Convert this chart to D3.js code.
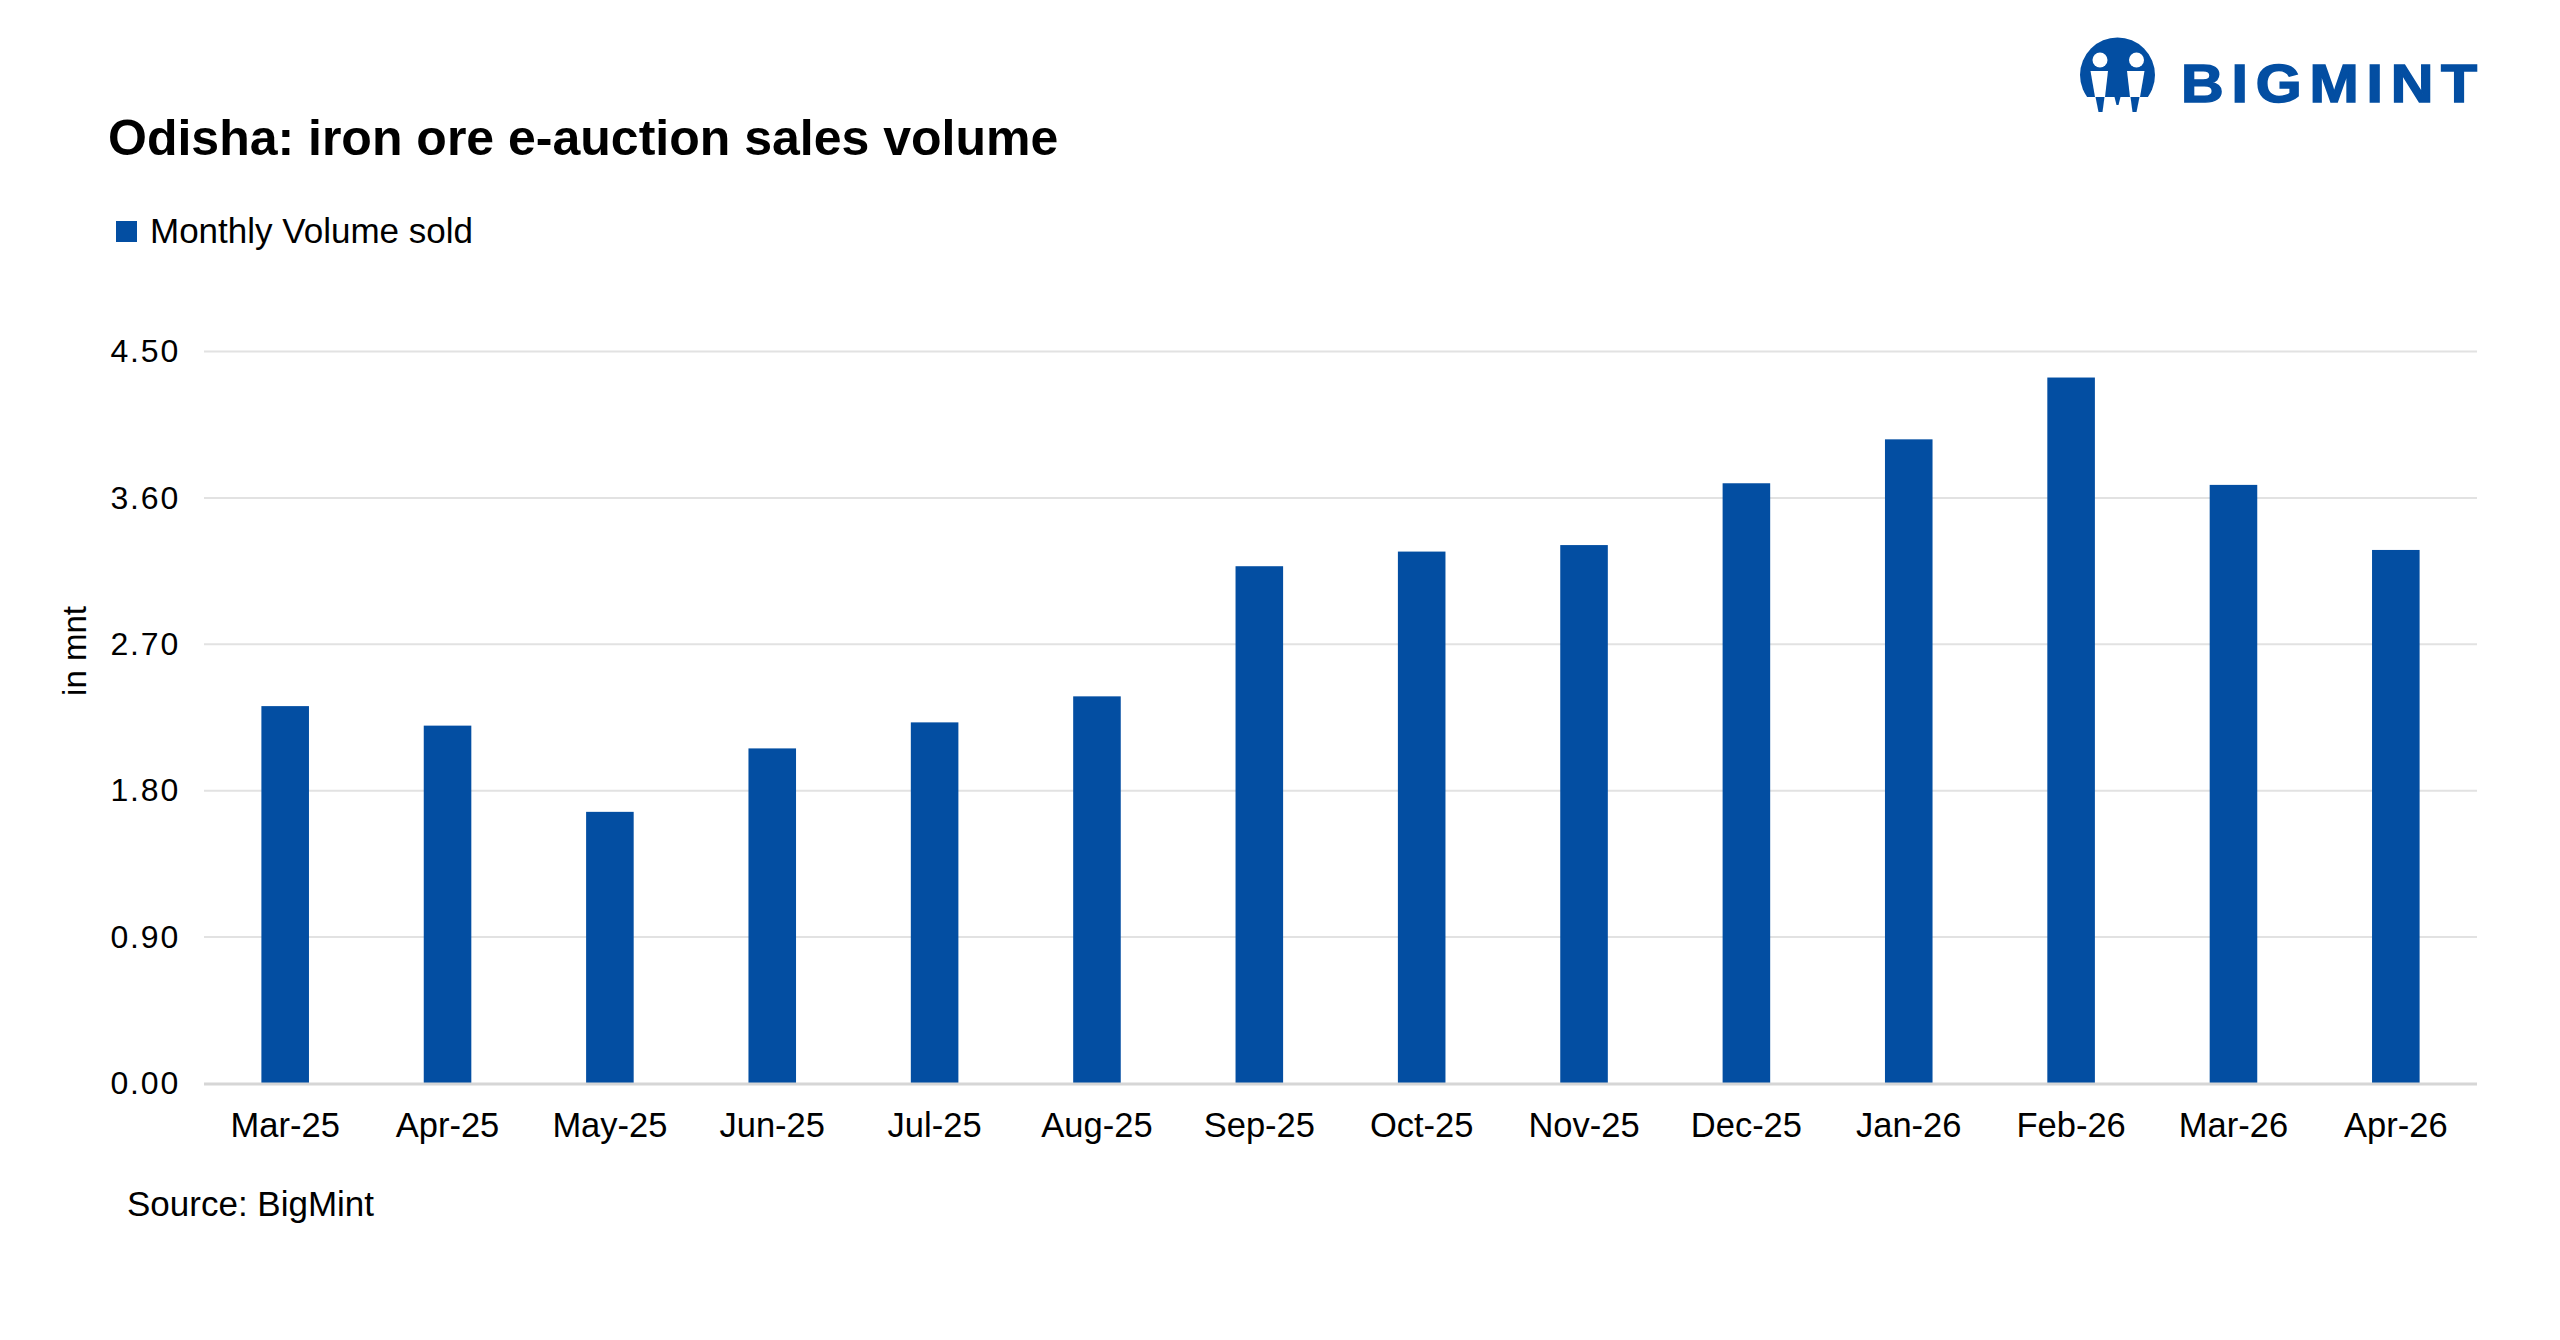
<!DOCTYPE html>
<html>
<head>
<meta charset="utf-8">
<script src="https://cdn.jsdelivr.net/npm/d3@7"></script>
<style>
  html, body { margin: 0; padding: 0; background: #fff; }
  svg { display: block; }
  text { font-family: "Liberation Sans", Arial, sans-serif; fill: #000; }
</style>
</head>
<body>
<svg id="chart" width="2560" height="1340"></svg>
<script>
const categories = ["Mar-25","Apr-25","May-25","Jun-25","Jul-25","Aug-25","Sep-25","Oct-25","Nov-25","Dec-25","Jan-26","Feb-26","Mar-26","Apr-26"];
const volumes = [2.32, 2.20, 1.67, 2.06, 2.22, 2.38, 3.18, 3.27, 3.31, 3.69, 3.96, 4.34, 3.68, 3.28];
const yTicks = [0, 0.9, 1.8, 2.7, 3.6, 4.5];
const seriesName = "Monthly Volume sold";
const titleText = "Odisha: iron ore e-auction sales volume";
const yTitle = "in mnt";
const sourceText = "Source: BigMint";
const brandText = "BIGMINT";

(function () {
const BLUE = "#034EA2";
const svg = d3.select("#chart");
svg.append("rect").attr("width", 2560).attr("height", 1340).attr("fill", "#fff");

const pLeft = 204, pRight = 2477, pTop = 351.5, pBottom = 1083.5;
const x = d3.scaleBand().domain(categories).range([pLeft, pRight]).paddingInner(0.707).paddingOuter(0.3535);
const y = d3.scaleLinear().domain([0, 4.5]).range([pBottom, pTop]);

// gridlines
svg.append("g").selectAll("line").data(yTicks.filter(d => d > 0)).join("line")
  .attr("x1", pLeft).attr("x2", pRight)
  .attr("y1", d => y(d)).attr("y2", d => y(d))
  .attr("stroke", "#e2e2e2").attr("stroke-width", 2);

// y axis labels
const yAxis = d3.axisLeft(y).tickValues(yTicks).tickFormat(d3.format(".2f")).tickSize(0).tickPadding(24);
const gy = svg.append("g").attr("transform", `translate(${pLeft},0)`).call(yAxis);
gy.select(".domain").remove();
gy.selectAll("text").attr("font-size", 32).attr("font-family", "Liberation Sans, Arial, sans-serif").attr("fill", "#000").attr("letter-spacing", 1.8);

// bars
svg.append("g").selectAll("rect").data(categories).join("rect")
  .attr("x", d => x(d))
  .attr("width", x.bandwidth())
  .attr("y", (d, i) => y(volumes[i]))
  .attr("height", (d, i) => y(0) - y(volumes[i]))
  .attr("fill", BLUE);

// baseline
svg.append("line").attr("x1", pLeft).attr("x2", pRight).attr("y1", pBottom + 0.5).attr("y2", pBottom + 0.5)
  .attr("stroke", "#d6d6d6").attr("stroke-width", 3);

// x axis labels
const xAxis = d3.axisBottom(x).tickSize(0).tickPadding(29);
const gx = svg.append("g").attr("transform", `translate(0,${pBottom})`).call(xAxis);
gx.select(".domain").remove();
gx.selectAll("text").attr("font-size", 34.5).attr("font-family", "Liberation Sans, Arial, sans-serif").attr("fill", "#000");

// y title
svg.append("text").attr("transform", "translate(86,651) rotate(-90)")
  .attr("text-anchor", "middle").attr("font-size", 33).text(yTitle);

// title
svg.append("text").attr("x", 108).attr("y", 155).attr("font-size", 50).attr("font-weight", "bold").text(titleText);

// legend
svg.append("rect").attr("x", 116).attr("y", 221).attr("width", 21).attr("height", 21).attr("fill", BLUE);
svg.append("text").attr("x", 150).attr("y", 243).attr("font-size", 35).text(seriesName);

// source
svg.append("text").attr("x", 127).attr("y", 1216).attr("font-size", 35).text(sourceText);

// logo
const logo = svg.append("g").attr("transform", "translate(2117.5,75)");
const clipId = "logoClip";
logo.append("clipPath").attr("id", clipId).append("rect").attr("x", -40).attr("y", -40).attr("width", 80).attr("height", 62);
logo.append("circle").attr("r", 37.5).attr("fill", BLUE).attr("clip-path", `url(#${clipId})`);
logo.append("circle").attr("cx", -17.5).attr("cy", -15).attr("r", 7.5).attr("fill", "#fff");
logo.append("circle").attr("cx", 19).attr("cy", -15).attr("r", 7.5).attr("fill", "#fff");
logo.append("path").attr("d", "M-27,-4 L-9.5,-4 L-12.5,22 L-22.5,22 Z").attr("fill", "#fff");
logo.append("path").attr("d", "M9.5,-4 L27,-4 L22.5,22 L12.5,22 Z").attr("fill", "#fff");
logo.append("path").attr("d", "M-22,22 L-13,22 L-15,37 L-19,37 Z").attr("fill", BLUE);
logo.append("path").attr("d", "M-3,22 L3,22 L1,30 L-1,30 Z").attr("fill", BLUE);
logo.append("path").attr("d", "M13,22 L22,22 L19,37 L15,37 Z").attr("fill", BLUE);
svg.append("text").attr("x", 2181).attr("y", 102)
  .attr("font-family", "DejaVu Sans, sans-serif").attr("font-weight", "bold").attr("font-size", 53)
  .attr("letter-spacing", 7)
  .attr("textLength", 304).attr("lengthAdjust", "spacingAndGlyphs")
  .attr("stroke", BLUE).attr("stroke-width", 1.5)
  .style("fill", BLUE).text(brandText);
})();
</script>
</body>
</html>
